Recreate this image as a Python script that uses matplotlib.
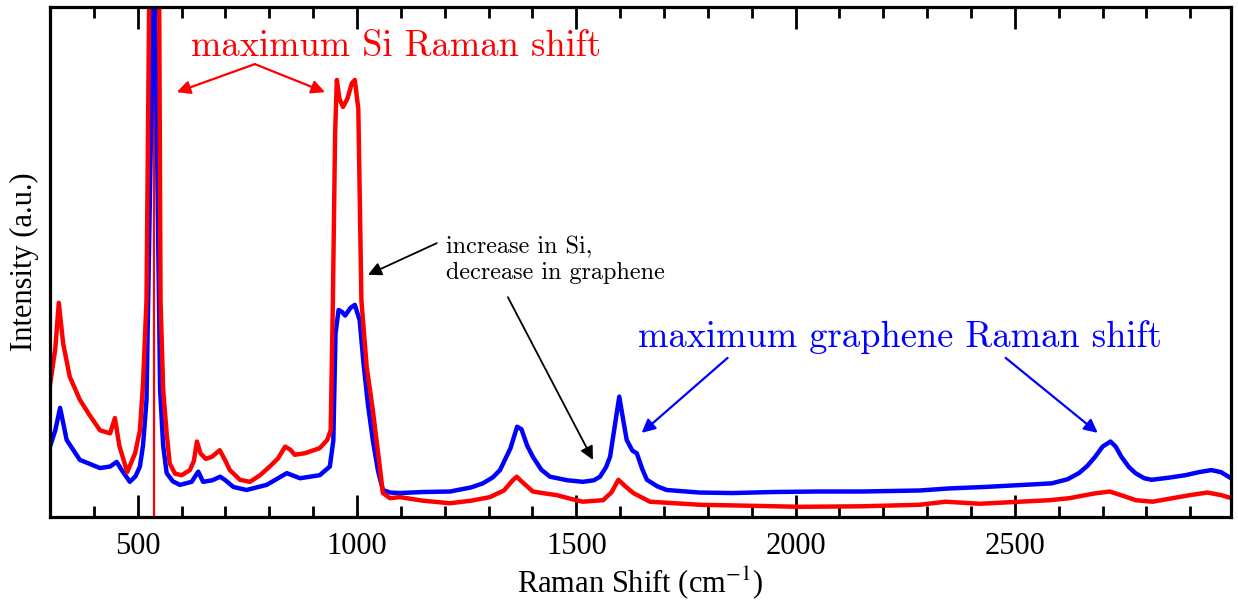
import matplotlib
matplotlib.use("Agg")
import matplotlib.pyplot as plt
from matplotlib.ticker import MultipleLocator

# Raman spectra (arbitrary intensity units)
si_x = [300, 312, 320, 330, 345, 368, 390, 414, 437, 448, 458, 476, 494, 505, 512,
        520, 526, 537, 549, 552, 558, 566, 573, 585, 600, 619, 628, 635, 643, 655,
        669, 687, 700, 710, 733, 756, 779, 801, 820, 836, 848, 858, 881, 915, 932,
        940, 945, 950, 954, 960, 968, 978, 988, 995, 1003, 1010, 1022, 1036, 1052,
        1059, 1075, 1098, 1150, 1212, 1260, 1303, 1335, 1355, 1364, 1375, 1401,
        1430, 1455, 1490, 1515, 1561, 1580, 1596, 1612, 1630, 1668, 1782, 1900,
        2010, 2150, 2283, 2342, 2420, 2511, 2580, 2625, 2680, 2716, 2745, 2776,
        2814, 2860, 2900, 2939, 2970, 2994]
si_y = [25.9, 33, 42, 34, 27.5, 23, 20, 17, 16.4, 19.4, 14, 8.8, 12.5, 17, 26,
        42.5, 100, 250, 100, 42.5, 25, 16.4, 10.5, 8.5, 8.2, 9.2, 11, 14.8, 12.5, 11.4,
        11.8, 13.1, 11, 9.2, 7.3, 6.9, 8.2, 9.9, 11.5, 13.8, 13.2, 12.2, 12.5, 13.5, 15.1,
        17, 42.5, 75, 85.7, 82, 80.4, 82, 85, 85.7, 80, 42.5, 29.5, 21, 9.8,
        4.7, 3.7, 3.9, 3.2, 2.7, 3.2, 3.9, 5.2, 7.2, 7.9, 7.0, 5.0,
        4.6, 4.3, 3.5, 3.0, 3.3, 4.8, 7.3, 6.0, 4.7, 3.0, 2.4, 2.2,
        2.0, 2.1, 2.4, 3.0, 2.6, 3.0, 3.3, 3.7, 4.6, 5.0, 4.2, 3.3,
        3.0, 3.7, 4.3, 4.8, 4.3, 3.7]

gr_x = [300, 312, 323, 338, 368, 414, 437, 452, 465, 482, 495, 505, 512, 520, 535,
        537, 540, 551, 558, 566, 580, 596, 623, 638, 649, 670, 688, 700, 718, 748,
        794, 820, 840, 870, 915, 938, 946, 951, 958, 966, 973, 985, 995, 1006, 1015,
        1025, 1036, 1048, 1059, 1075, 1098, 1150, 1212, 1260, 1287, 1310, 1326, 1350,
        1365, 1375, 1388, 1401, 1420, 1440, 1480, 1515, 1540, 1554, 1568, 1577, 1588,
        1598, 1607, 1615, 1628, 1638, 1650, 1661, 1685, 1706, 1780, 1857, 1950, 2048,
        2150, 2283, 2350, 2433, 2520, 2584, 2620, 2646, 2665, 2683, 2700, 2718, 2730,
        2743, 2760, 2775, 2795, 2812, 2850, 2889, 2920, 2948, 2970, 2993]
gr_y = [13.8, 17, 21.4, 15.1, 11.2, 9.6, 9.9, 10.8, 9, 6.9, 8, 9.9, 14, 22.9, 100,
        250, 100, 25, 14, 8.6, 7, 6.3, 6.9, 8.9, 6.9, 7.2, 7.9, 7.2, 5.9, 5.3,
        6.3, 7.6, 8.6, 7.6, 8.2, 9.9, 15, 36, 40.6, 40.2, 39.5, 41, 41.6, 38.6, 30,
        22, 15.1, 9, 5.3, 4.8, 4.7, 4.9, 5.0, 5.8, 6.6, 7.8, 9.2, 13.5,
        17.7, 17.2, 14, 11.8, 9.3, 7.9, 7.2, 6.9, 7.2, 7.9, 9.8, 11.8, 18,
        23.6, 19, 15.1, 13, 12.5, 9.5, 7.3, 6.0, 5.3, 4.8, 4.7, 4.9, 5.0,
        5.0, 5.2, 5.6, 5.9, 6.3, 6.6, 7.4, 8.6, 10.0, 11.8, 13.8, 14.8, 13.8,
        11.8, 9.8, 8.6, 7.6, 7.3, 7.7, 8.2, 8.8, 9.2, 8.8, 7.6]

si_line_x = 537

RED = "#ff0000"
BLUE = "#0000ff"

plt.rcParams["font.family"] = "Liberation Serif"
plt.rcParams["mathtext.fontset"] = "stix"

fig = plt.figure(figsize=(12.38, 6.03), dpi=100)
ax = fig.add_axes([0.0404, 0.1426, 0.9540, 0.8458])

ax.axvline(si_line_x, color=RED, lw=1.6)
ax.plot(gr_x, gr_y, color=BLUE, lw=3.2, solid_joinstyle="round")
ax.plot(si_x, si_y, color=RED, lw=3.2, solid_joinstyle="round")

ax.set_xlim(300, 2993)
ax.set_ylim(0, 100)
ax.xaxis.set_major_locator(MultipleLocator(500))
ax.xaxis.set_minor_locator(MultipleLocator(100))
ax.set_yticks([])
ax.tick_params(axis="x", which="both", direction="in", top=True, width=2, labelsize=22, pad=11)
ax.tick_params(axis="x", which="major", length=16)
ax.tick_params(axis="x", which="minor", length=8)
for sp in ax.spines.values():
    sp.set_linewidth(2.3)

ax.set_xlabel("Raman Shift (cm$^{-1}$)", fontsize=22, labelpad=2)
ax.set_ylabel("Intensity (a.u.)", fontsize=22, labelpad=8)

# annotations
cm = "cmr10"
ax.text(1089, 92.2, "maximum Si Raman shift", color=RED, fontsize=26.3, family=cm,
        ha="center", va="center")
red_arrow = dict(arrowstyle="-|>", color=RED, lw=1.6, mutation_scale=20, shrinkA=0, shrinkB=0)
for hx in (589, 927):
    ax.annotate("", xy=(hx, 83.3), xytext=(767, 88.8), arrowprops=red_arrow)

ax.text(1203, 50.4, "increase in Si,\ndecrease in graphene", color="black", fontsize=17.4,
        family=cm, ha="left", va="center", linespacing=1.2)
blk_arrow = dict(arrowstyle="-|>", color="black", lw=1.3, mutation_scale=20, shrinkA=0, shrinkB=0)
ax.annotate("", xy=(1025, 47.5), xytext=(1182, 53.7), arrowprops=blk_arrow)
ax.annotate("", xy=(1538, 11.2), xytext=(1344, 43.1), arrowprops=blk_arrow)

ax.text(2238, 35.3, "maximum graphene Raman shift", color=BLUE, fontsize=26.3, family=cm,
        ha="center", va="center")
blue_arrow = dict(arrowstyle="-|>", color=BLUE, lw=1.6, mutation_scale=20, shrinkA=0, shrinkB=0)
ax.annotate("", xy=(1649, 16.5), xytext=(1845, 31.2), arrowprops=blue_arrow)
ax.annotate("", xy=(2689, 16.5), xytext=(2479, 31.2), arrowprops=blue_arrow)

fig.savefig("out.png", dpi=100)
